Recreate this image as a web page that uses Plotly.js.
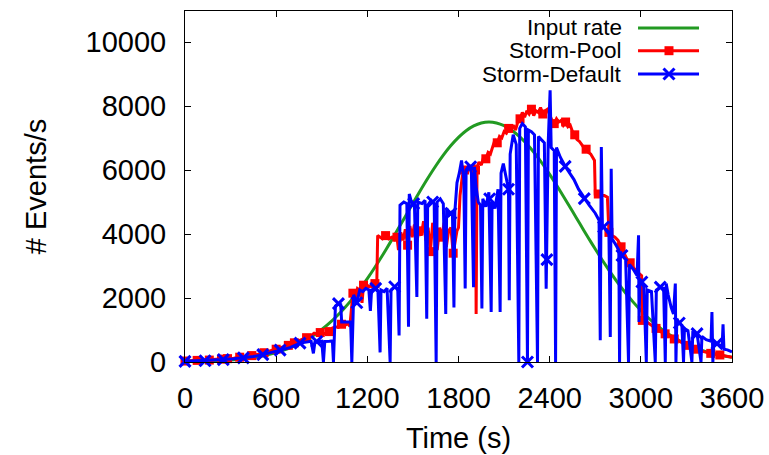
<!DOCTYPE html>
<html>
<head>
<meta charset="utf-8">
<script src="https://cdn.plot.ly/plotly-3.0.1.min.js"></script>
<style>html,body{margin:0;padding:0;background:#fff;}#chart{width:769px;height:455px;}</style>
</head>
<body>
<div id="chart"></div>
<script>
// ---- data ----
const inputT = [0,50,100,150,200,250,300,350,400,450,500,550,600,650,700,750,800,850,900,950,1000,1050,1100,1150,1200,1250,1300,1350,1400,1450,1500,1550,1600,1650,1700,1750,1800,1850,1900,1950,2000,2050,2100,2150,2200,2250,2300,2350,2400,2450,2500,2550,2600,2650,2700,2750,2800,2850,2900,2950,3000,3050,3100,3150,3200,3250,3300,3350,3400,3450,3500,3550,3600];
const inputV = [10,14,19,26,35,47,63,83,109,141,182,232,294,369,460,567,694,843,1015,1213,1436,1688,1966,2272,2604,2960,3336,3730,4137,4549,4962,5367,5757,6125,6464,6764,7020,7226,7377,7469,7500,7471,7385,7245,7052,6812,6530,6211,5864,5492,5104,4709,4310,3915,3529,3156,2801,2467,2157,1871,1610,1375,1166,980,818,677,556,454,368,295,235,186,146];

const poolT = [0,40,80,120,160,200,240,280,320,360,400,440,480,520,560,600,640,680,720,760,800,830,850,870,890,910,930,950,970,990,1010,1030,1050,1070,1085,1095,1105,1120,1135,1150,1165,1175,1190,1210,1230,1250,1262,1268,1285,1300,1320,1340,1360,1380,1395,1405,1420,1435,1450,1465,1480,1495,1510,1525,1540,1555,1570,1585,1600,1615,1630,1645,1660,1675,1690,1705,1720,1735,1750,1765,1780,1790,1800,1810,1825,1840,1855,1870,1885,1900,1912,1916,1922,1935,1950,1965,1980,1995,2010,2025,2040,2055,2070,2085,2100,2115,2130,2145,2160,2175,2190,2205,2220,2235,2250,2265,2280,2295,2310,2325,2340,2355,2370,2385,2400,2415,2430,2445,2460,2475,2490,2505,2520,2535,2550,2565,2580,2595,2610,2625,2640,2655,2670,2685,2695,2700,2720,2740,2760,2780,2790,2810,2830,2850,2870,2890,2910,2930,2950,2970,2990,3005,3010,3040,3070,3100,3130,3160,3190,3220,3250,3280,3310,3340,3370,3400,3430,3460,3490,3520,3550,3580,3600];
const poolV = [30,40,50,55,60,70,90,105,120,150,175,200,240,290,340,400,460,520,600,700,760,830,900,860,920,880,900,950,1060,1100,1080,1180,1130,1200,1120,1700,2150,2000,2300,2250,1850,2400,2450,2350,2400,2450,2400,3950,3900,3850,3950,3850,3900,3820,3900,3500,4050,3800,4150,3650,4250,3900,4300,3750,4100,3950,4400,3800,4200,3450,4350,3900,3500,4200,3900,4350,3600,4100,4200,3400,3900,4100,4200,5200,5800,6000,5900,6150,5950,6200,6000,1500,6100,6250,6150,6400,6350,6550,6500,6700,6950,6850,7050,7000,7200,7150,7300,7250,7400,7250,7500,7600,7800,7650,7850,7750,7900,7700,7850,7800,7950,7750,7850,7900,7700,7550,7450,7600,7500,7550,7400,7500,7350,7400,7200,7100,6950,6900,6800,6700,6650,6550,6500,6400,6300,5250,5250,5200,5200,5150,4050,3950,3900,3800,3600,3450,3200,3100,2950,2850,2750,2700,1300,1250,1150,1050,950,880,800,720,650,580,520,450,400,340,300,270,250,220,190,160,150];

const defT = [0,60,125,190,250,320,384,450,512,570,626,690,757,800,830,845,855,880,900,911,920,950,970,977,983,990,1010,1025,1031,1060,1090,1098,1104,1110,1131,1150,1170,1190,1210,1220,1228,1250,1270,1284,1290,1310,1330,1350,1356,1380,1400,1409,1415,1440,1460,1471,1476,1490,1510,1526,1532,1560,1580,1591,1597,1620,1640,1653,1659,1680,1700,1716,1722,1740,1760,1770,1776,1790,1805,1820,1835,1844,1850,1870,1885,1899,1905,1915,1930,1945,1954,1960,1980,2000,2015,2021,2040,2060,2074,2080,2095,2110,2129,2134,2140,2160,2180,2197,2203,2220,2240,2254,2260,2280,2300,2320,2326,2345,2365,2377,2390,2403,2410,2430,2439,2445,2470,2502,2530,2560,2590,2628,2660,2700,2725,2733,2740,2747,2755,2790,2799,2805,2811,2830,2855,2860,2866,2876,2900,2919,2925,2950,2975,2985,2988,2995,3007,3020,3036,3042,3070,3095,3102,3128,3150,3161,3167,3180,3200,3215,3227,3231,3237,3253,3270,3281,3287,3310,3336,3342,3370,3396,3402,3430,3462,3468,3474,3480,3501,3520,3535,3541,3547,3570,3600];
const defV = [20,30,40,60,75,100,130,170,230,300,370,450,590,620,650,270,620,640,650,0,640,650,660,0,660,1750,1830,1800,1250,1250,1250,0,1300,2100,1850,2250,2200,2300,2250,1600,2250,2300,2200,300,2250,2200,2300,0,2250,2350,2300,830,4900,5000,4950,1100,5250,5000,4900,2030,5000,4950,5050,1350,4900,5050,4950,0,5000,5100,4950,1500,4800,4600,4700,1700,4700,5600,5900,6300,5700,2300,6000,6150,5900,2340,6100,5500,5000,4900,1670,5100,4850,5300,1560,5000,4800,5400,1560,5900,6200,5800,5400,1930,6500,7100,6800,0,7300,7450,7350,0,7250,7200,7100,0,7050,6950,6850,2290,6800,8490,6700,6600,0,6700,6400,6115,5900,5700,5400,5105,4900,4650,4430,680,6720,4300,4220,4000,780,6040,3850,3700,3500,0,3450,3330,3200,0,3050,2900,2700,3960,1250,2600,2500,2350,0,2250,2200,0,2250,2340,2300,0,2450,2100,1700,1500,2450,0,1350,1220,1150,0,1050,980,0,920,885,0,800,700,650,1560,0,620,575,520,480,1180,400,380,312];

const defMarkT = [0,132,252,384,512,626,757,867,1010,1131,1255,1380,1505,1630,1750,1880,2005,2129,2254,2382,2502,2628,2755,2876,3007,3128,3253,3370,3501];
const defMarkV = [20,40,75,130,230,370,590,640,1825,1850,2300,2350,4950,5000,4650,6100,5100,5400,0,3200,6115,5105,4220,3330,2500,2340,1220,885,575];

const xTicks = [0,600,1200,1800,2400,3000,3600];
const yTicks = [0,2000,4000,6000,8000,10000];
const seriesNames = ['Input rate','Storm-Pool','Storm-Default'];

// red markers sit on the data point nearest to a regular spacing
const poolMarkT = [], poolMarkV = [];
for (let m = 0; m <= 3600; m += 73.5) {
  let best = 0;
  for (let i = 1; i < poolT.length; i++) if (Math.abs(poolT[i]-m) < Math.abs(poolT[best]-m)) best = i;
  poolMarkT.push(poolT[best]); poolMarkV.push(poolV[best]);
}

const GREEN = '#229a22', RED = '#ff0000', BLUE = '#0000ff';
const FONT = 'Liberation Sans, Arial, Helvetica, sans-serif';
const SQ = {symbol: 'square', size: 9, color: RED};
const XM = {symbol: 'x-thin-open', size: 11, color: BLUE, line: {color: BLUE, width: 3}};

const traces = [
  {x: inputT, y: inputV, mode: 'lines', line: {color: GREEN, width: 3, shape: 'spline', smoothing: 0.6}, showlegend: false},
  {x: poolT, y: poolV, mode: 'lines', line: {color: RED, width: 3}, showlegend: false},
  {x: poolMarkT, y: poolMarkV, mode: 'markers', marker: SQ, cliponaxis: false, showlegend: false},
  {x: defT, y: defV, mode: 'lines', line: {color: BLUE, width: 3}, showlegend: false},
  {x: defMarkT, y: defMarkV, mode: 'markers', marker: XM, cliponaxis: false, showlegend: false},
  // legend samples on an overlay unit axis
  {x: [0.8282, 0.9397], y: [0.9516, 0.9516], xaxis: 'x2', yaxis: 'y2', mode: 'lines', line: {color: GREEN, width: 3}, showlegend: false},
  {x: [0.8282, 0.9397], y: [0.8869, 0.8869], xaxis: 'x2', yaxis: 'y2', mode: 'lines', line: {color: RED, width: 3}, showlegend: false},
  {x: [0.8848], y: [0.8869], xaxis: 'x2', yaxis: 'y2', mode: 'markers', marker: SQ, showlegend: false},
  {x: [0.8282, 0.9397], y: [0.8205, 0.8205], xaxis: 'x2', yaxis: 'y2', mode: 'lines', line: {color: BLUE, width: 3}, showlegend: false},
  {x: [0.8848], y: [0.8205], xaxis: 'x2', yaxis: 'y2', mode: 'markers', marker: XM, showlegend: false}
];

const legendY = [0.9516, 0.8869, 0.8205];
const annotations = seriesNames.map((n, i) => ({
  xref: 'paper', yref: 'paper', x: 0.8026, y: legendY[i], xanchor: 'right', yanchor: 'middle',
  text: n, showarrow: false, font: {family: FONT, size: 22.5, color: '#000'}
}));

const layout = {
  width: 769, height: 455,
  margin: {l: 185, r: 37, t: 11, b: 93, pad: 0},
  paper_bgcolor: '#fff', plot_bgcolor: '#fff',
  showlegend: false,
  font: {family: FONT, color: '#000'},
  xaxis: {
    range: [0, 3600], tickvals: xTicks, ticktext: xTicks.map(String),
    ticks: 'inside', ticklen: 6, tickwidth: 1, tickcolor: '#000',
    showline: true, linecolor: '#000', linewidth: 1, mirror: 'ticks',
    showgrid: false, zeroline: false,
    tickfont: {family: FONT, size: 29, color: '#000'}, ticklabelstandoff: 10,
    title: {text: 'Time (s)', font: {family: FONT, size: 29, color: '#000'}, standoff: 14}
  },
  yaxis: {
    range: [0, 10969], tickvals: yTicks, ticktext: yTicks.map(String),
    ticks: 'inside', ticklen: 6, tickwidth: 1, tickcolor: '#000',
    showline: true, linecolor: '#000', linewidth: 1, mirror: 'ticks',
    showgrid: false, zeroline: false,
    tickfont: {family: FONT, size: 29, color: '#000'}, ticklabelstandoff: 12,
    title: {text: '# Events/s', font: {family: FONT, size: 29, color: '#000'}, standoff: 30}
  },
  xaxis2: {overlaying: 'x', range: [0, 1], visible: false, fixedrange: true},
  yaxis2: {overlaying: 'y', range: [0, 1], visible: false, fixedrange: true},
  annotations: annotations
};

Plotly.newPlot('chart', traces, layout, {displayModeBar: false, staticPlot: true});
</script>
</body>
</html>
